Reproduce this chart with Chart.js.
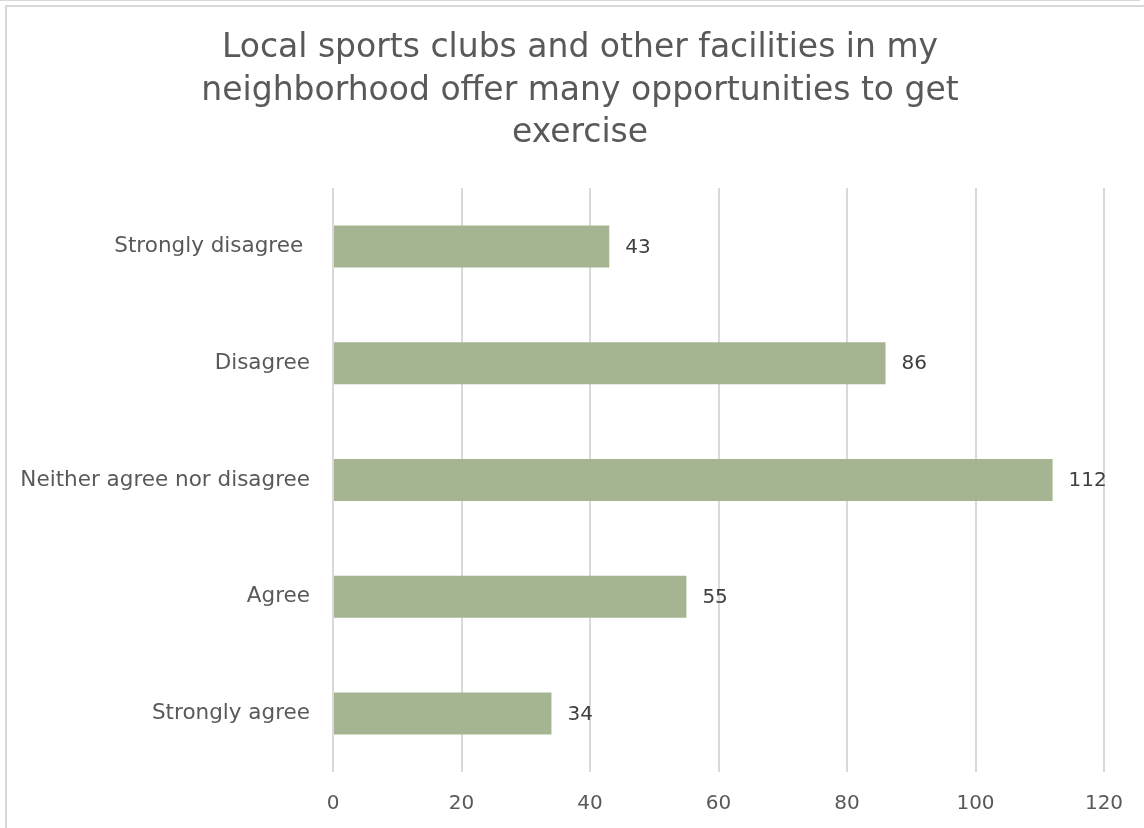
<!DOCTYPE html>
<html>
<head>
<meta charset="utf-8">
<script src="https://cdn.jsdelivr.net/npm/chart.js@4/dist/chart.umd.min.js"></script>
<style>
  html, body { margin: 0; padding: 0; background: #fff; }
  body { width: 1144px; height: 828px; position: relative; overflow: hidden; }
  .outer { position: absolute; left: -2px; top: -10px; width: 1142px; height: 11px;
           border: 1px solid #d9d9d9; border-left: none; box-sizing: border-box; border-bottom-width: 2px; }
  .frame { position: absolute; left: 5px; top: 5px; width: 1160px; height: 840px;
           border: 2px solid #d9d9d9; box-sizing: border-box; }
  #wrap { position: absolute; left: 0; top: 0; width: 1144px; height: 828px; }
</style>
</head>
<body>
<div class="outer"></div>
<div class="frame"></div>
<div id="wrap"><canvas id="chart"></canvas></div>
<script>
// Survey responses
const titleLines = [
  'Local sports clubs and other facilities in my',
  'neighborhood offer many opportunities to get',
  'exercise'
];
const categories = ['Strongly disagree ', 'Disagree', 'Neither agree nor disagree', 'Agree', 'Strongly agree'];
const responses = [43, 86, 112, 55, 34];
const axisMin = 0;
const axisMax = 120;
const axisStep = 20;

const FONT = "'DejaVu Sans', sans-serif";

// Three-line heading, centred over the whole chart box
const chartHeading = {
  id: 'chartHeading',
  afterDraw(chart) {
    const ctx = chart.ctx;
    ctx.save();
    ctx.font = '33px ' + FONT;
    ctx.fillStyle = '#595959';
    ctx.textAlign = 'center';
    ctx.textBaseline = 'alphabetic';
    titleLines.forEach((line, i) => {
      ctx.fillText(line, 580, 57 + i * 42.5);
    });
    ctx.restore();
  }
};

// Value labels drawn just past the end of each bar
const barValueLabels = {
  id: 'barValueLabels',
  afterDatasetsDraw(chart) {
    const ctx = chart.ctx;
    const meta = chart.getDatasetMeta(0);
    ctx.save();
    ctx.font = '20px ' + FONT;
    ctx.fillStyle = '#404040';
    ctx.textAlign = 'left';
    ctx.textBaseline = 'middle';
    meta.data.forEach((bar, i) => {
      ctx.fillText(String(chart.data.datasets[0].data[i]), bar.x + 16, bar.y + 1);
    });
    ctx.restore();
  }
};

new Chart(document.getElementById('chart'), {
  type: 'bar',
  data: {
    labels: categories,
    datasets: [{
      data: responses,
      backgroundColor: '#a6b591',
      borderWidth: 0,
      categoryPercentage: 0.36,
      barPercentage: 1.0
    }]
  },
  options: {
    indexAxis: 'y',
    responsive: true,
    maintainAspectRatio: false,
    animation: false,
    layout: { padding: { left: 0, right: 40, top: 188, bottom: 0 } },
    plugins: {
      legend: { display: false },
      tooltip: { enabled: false },
      title: { display: false }
    },
    scales: {
      x: {
        min: axisMin,
        max: axisMax,
        ticks: {
          stepSize: axisStep,
          color: '#595959',
          font: { family: FONT, size: 20 },
          padding: 20
        },
        grid: { color: '#d9d9d9', lineWidth: 2, drawTicks: false },
        border: { display: false },
        afterFit(scale) { scale.height = 56; }
      },
      y: {
        ticks: {
          color: '#595959',
          font: { family: FONT, size: 21.5 },
          padding: 23
        },
        grid: { display: false, drawTicks: false },
        border: { display: false },
        afterFit(scale) { scale.width = 333; }
      }
    }
  },
  plugins: [barValueLabels, chartHeading]
});
</script>
</body>
</html>
